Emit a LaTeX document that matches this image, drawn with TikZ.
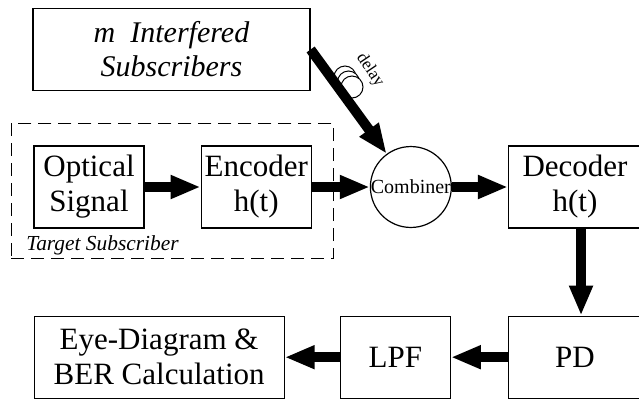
\documentclass[tikz,border=0pt]{standalone}
\usepackage{fontspec}
\setmainfont{Liberation Serif}
\usetikzlibrary{positioning,arrows.meta,fit}

\tikzset{
	blk/.style={draw, line width=0.6pt, minimum height=41pt, align=center, inner sep=0pt, font=\fontsize{15.5}{17.5}\selectfont},
	bigarrow/.style={line width=5pt, -{Triangle[length=15pt,width=11pt]}},
	coil/.style={draw, fill=white, line width=0.5pt},
}

\begin{document}
\begin{tikzpicture}[x=0.5pt, y=-0.5pt, node distance=28pt]
			\useasboundingbox (0,0) rectangle (639,398);
			\node (intf) [blk, minimum width=138.5pt, font=\itshape\fontsize{15}{17}\selectfont] at (171.5,49.5) {m\ \ Interfered\\Subscribers};
			\node (opt) [blk, minimum width=55pt] at (89,187) {Optical\\Signal};
			\node (enc) [blk, minimum width=55pt, right=of opt] {Encoder\\h(t)};
			\node (comb) [draw, circle, line width=0.6pt, minimum size=40pt, inner sep=0pt, font=\fontsize{10}{11}\selectfont, right=29pt of enc] {Combiner};
			\node (dec) [blk, minimum width=66.5pt, right=of comb] {Decoder\\h(t)};
			\node (pd) [blk, minimum width=66.5pt, below=43.5pt of dec] {PD};
			\node (lpf) [blk, minimum width=55pt, left=28.5pt of pd] {LPF};
			\node (eye) [blk, minimum width=125pt, left=27.5pt of lpf] {Eye-Diagram \&\\BER Calculation};
			
			% target subscriber group
			\coordinate (tgtlow) at ([yshift=-4pt]enc.south east);
			\node (tgt) [draw, line width=0.5pt, dash pattern=on 6.5pt off 3.5pt, fit=(opt)(enc)(tgtlow), inner sep=11pt] {};
			\node (tgtlbl) [anchor=base west, inner sep=0pt, font=\itshape\fontsize{10.7}{12}\selectfont] at ([xshift=7.5pt,yshift=4.5pt]tgt.south west) {Target Subscriber};
			
			% delay line
			\draw[coil] (345,77) circle (5.5pt);
			\draw[coil] (348.5,82) circle (5.5pt);
			\draw[coil] (352,87) circle (5.5pt);
			\node (dly) [rotate=-56, inner sep=0pt, font=\fontsize{8.5}{9}\selectfont] at (370,70) {delay};
			
			\draw[bigarrow] (intf.east) -- (comb);
			\draw[bigarrow] (opt) -- (enc);
			\draw[bigarrow] (enc) -- (comb);
			\draw[bigarrow] (comb) -- (dec);
			\draw[bigarrow] ([xshift=3pt]dec.south) -- ([xshift=3pt]pd.north);
			\draw[bigarrow] (pd) -- (lpf);
			\draw[bigarrow] (lpf) -- (eye);
		\end{tikzpicture}
\end{document}
